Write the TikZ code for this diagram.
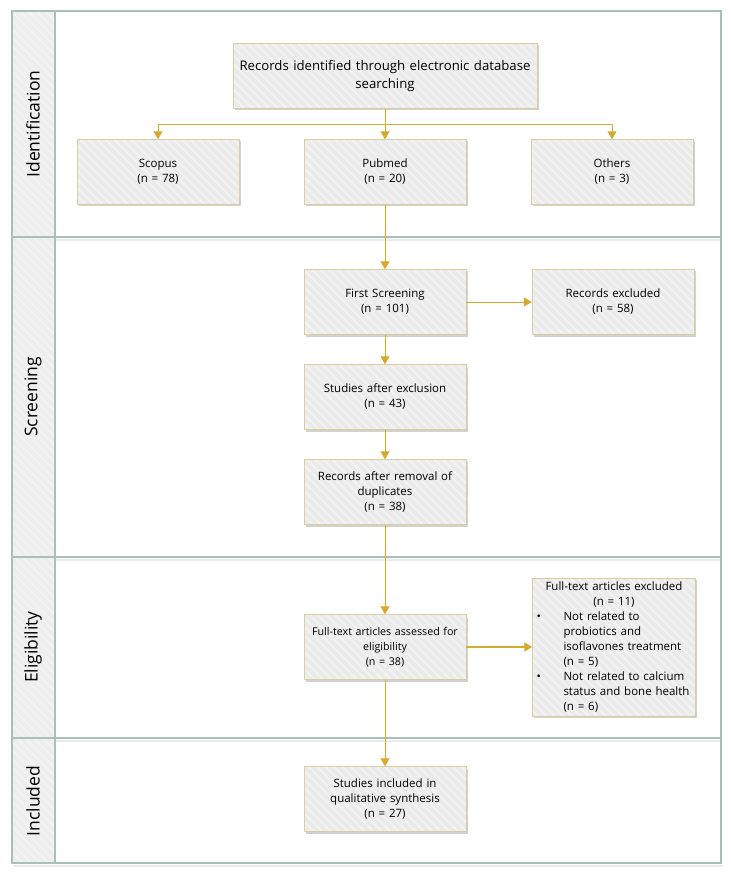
\documentclass[tikz,border=0pt]{standalone}
\usepackage{fontspec}
\setmainfont{Open Sans}
\usetikzlibrary{arrows.meta,patterns.meta,shadows}
\definecolor{arrowc}{HTML}{D4AA2F}
\definecolor{boxline}{HTML}{D8CFA0}
\definecolor{boxfill}{HTML}{EBEBEB}
\definecolor{laneline}{HTML}{A8C0B8}
\definecolor{lanefill}{HTML}{EEEEEE}
\begin{document}
\begin{tikzpicture}[x=1pt,y=-1pt,
  hatch/.style={postaction={pattern={Lines[angle=-45,distance=6pt,line width=1.8pt]}, pattern color=white!40!boxfill}},
  box/.style={fill=boxfill, minimum width=162pt, minimum height=65pt,
    text width=156pt, align=center, inner sep=2pt, font=\fontsize{11.5}{15}\selectfont, hatch,
    postaction={draw=boxline, line width=1pt},
    drop shadow={shadow xshift=1.5pt, shadow yshift=-2pt, fill=black, opacity=0.18}},
  lanetext/.style={rotate=90, font=\fontsize{17.5}{20}\selectfont, inner sep=0pt},
  arr/.style={draw=arrowc, line width=1pt, -{Triangle[width=9pt,length=8pt]}, arrowc},
  lane/.style={draw=laneline, line width=1.2pt},
  laneshadow/.style={draw=black!8, line width=2.5pt}
]
\useasboundingbox (0,0) rectangle (730,874);
% lanes
\fill[white] (12,11) rectangle (721,863);
\fill[lanefill, hatch] (12,11) rectangle (55,863);
\draw[laneshadow] (55,240) -- (721,240);
\draw[laneshadow] (55,560) -- (721,560);
\draw[laneshadow] (55,741) -- (721,741);
\draw[laneshadow] (14,866) -- (723,866);
\draw[lane] (12,11) rectangle (721,863);
\draw[lane] (55,11) -- (55,863);
\draw[lane] (12,237) -- (721,237);
\draw[lane] (12,557) -- (721,557);
\draw[lane] (12,738) -- (721,738);
\node[lanetext] (lid) at (33,124) {Identification};
\node[lanetext] (lsc) at (33,397) {Screening};
\node[lanetext] (lel) at (33,647) {Eligibility};
\node[lanetext] (lin) at (33,801) {Included};
% boxes
\node[box, minimum width=304pt, text width=296pt, font=\fontsize{13.2}{18}\selectfont] (top) at (385,76) {Records identified through electronic database\\searching};
\node[box] (scopus) at (158,172) {Scopus\\(n = 78)};
\node[box] (pubmed) at (385,172) {Pubmed\\(n = 20)};
\node[box] (others) at (612,172) {Others\\(n = 3)};
\node[box] (first) at (385,302) {First Screening\\(n = 101)};
\node[box] (excl) at (613,302) {Records excluded\\(n = 58)};
\node[box] (after) at (385,397) {Studies after exclusion\\(n = 43)};
\node[box] (dup) at (385,492) {Records after removal of\\duplicates\\(n = 38)};
\node[box, font=\fontsize{10.7}{15}\selectfont, text width=160pt, inner sep=1pt] (full) at (385,647) {Full-text articles assessed for\\eligibility\\(n = 38)};
\node[box, minimum height=138pt, text width=161pt, inner sep=1pt] (fexcl) at (614,647) {%
  \renewcommand\arraystretch{1}%
  \begin{tabular}{@{\hspace{3pt}}p{27pt}@{}p{131pt}@{}}
  \multicolumn{2}{c}{Full-text articles excluded}\\
  \multicolumn{2}{c}{(n = 11)}\\
  \textbullet & Not related to\\
  & probiotics and\\
  & isoflavones treatment\\
  & (n = 5)\\
  \textbullet & Not related to calcium\\
  & status and bone health\\
  & (n = 6)
  \end{tabular}};
\node[box] (incl) at (385,799) {Studies included in\\qualitative synthesis\\(n = 27)};
% connectors
\draw[arr] (top) -- (pubmed);
\draw[arr] (top.south) -- ++(0,16) -| (scopus.north);
\draw[arr] (top.south) -- ++(0,16) -| (others.north);
\draw[arr] (pubmed) -- (first);
\draw[arr] (first) -- (excl);
\draw[arr] (first) -- (after);
\draw[arr] (after) -- (dup);
\draw[arr] (dup) -- (full);
\draw[arr, line width=2pt] (full) -- (fexcl);
\draw[arr] (full) -- (incl);
\end{tikzpicture}
\end{document}
